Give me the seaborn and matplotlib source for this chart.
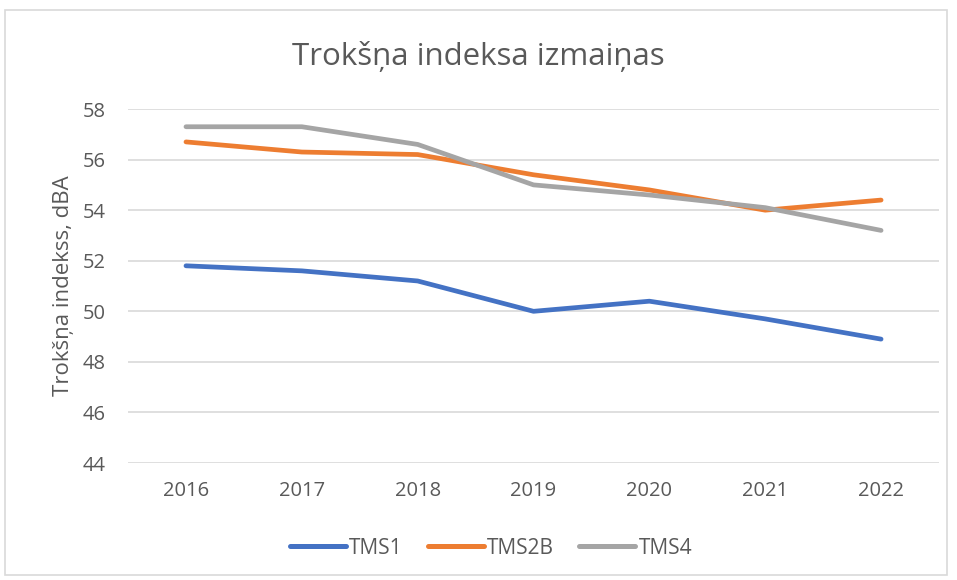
import pandas as pd
import matplotlib.pyplot as plt
import seaborn as sns
from matplotlib.patches import Rectangle

years = ['2016', '2017', '2018', '2019', '2020', '2021', '2022']
tms1 = [51.8, 51.6, 51.2, 50.0, 50.4, 49.7, 48.9]
tms2b = [56.7, 56.3, 56.2, 55.4, 54.8, 54.0, 54.4]
tms4 = [57.3, 57.3, 56.6, 55.0, 54.6, 54.1, 53.2]
series_names = ['TMS1', 'TMS2B', 'TMS4']
colors = ['#4472C4', '#ED7D31', '#A5A5A5']

rows = []
for name, vals in zip(series_names, [tms1, tms2b, tms4]):
    for i, v in enumerate(vals):
        rows.append({'idx': i, 'year': years[i], 'value': v, 'series': name})
df = pd.DataFrame(rows)

sns.set_theme(style="white")
plt.rcParams['font.family'] = ['Open Sans', 'DejaVu Sans']
text_color = '#595959'

fig = plt.figure(figsize=(9.57, 5.8), dpi=100)
ax = fig.add_axes([0.1338, 0.2017, 0.8474, 0.6103])

sns.lineplot(data=df, x='idx', y='value', hue='series', palette=colors,
             linewidth=3.4, ax=ax, legend=False, solid_capstyle='round')

ax.set_xlim(-0.5, 6.5)
ax.set_ylim(44, 58)
ax.set_yticks(range(44, 59, 2))
ax.set_xticks(range(len(years)))
ax.set_xticklabels(years)
ax.yaxis.grid(True, color='#D9D9D9', linewidth=1.2)
ax.xaxis.grid(False)
ax.set_axisbelow(True)
sns.despine(ax=ax, left=True, bottom=True, top=True, right=True)
ax.tick_params(axis='both', length=0, labelsize=14.5, colors=text_color)
ax.tick_params(axis='x', pad=13)
ax.tick_params(axis='y', pad=16)

ax.set_xlabel('')
ax.set_ylabel('Trokšņa indekss, dBA', fontsize=16, color=text_color, labelpad=6)
fig.text(0.5, 0.902, 'Trokšņa indeksa izmaiņas', ha='center', va='center',
         fontsize=22.5, color=text_color)

handles = [plt.Line2D([0], [0], color=c, lw=3.6, solid_capstyle='round') for c in colors]
fig.legend(handles, series_names, loc='center', bbox_to_anchor=(0.513, 0.055), ncol=3,
           frameon=False, fontsize=15, labelcolor=text_color, handlelength=2.7,
           handletextpad=0.15, columnspacing=1.2)

fig.patches.append(Rectangle((0.005, 0.008), 0.985, 0.975, transform=fig.transFigure,
                             fill=False, edgecolor='#D9D9D9', linewidth=1.2))

fig.savefig('out.png', dpi=100)
